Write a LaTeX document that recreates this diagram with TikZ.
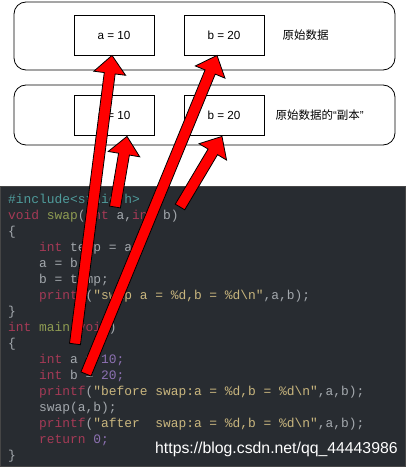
\documentclass[tikz,border=0pt]{standalone}
\usepackage{xcolor}
\usepackage{fontspec}
\setmainfont{Liberation Sans}
\setmonofont{Liberation Mono}
\newfontfamily\cjk{Noto Sans CJK SC}
\usetikzlibrary{calc}
\usetikzlibrary{positioning}
\definecolor{codebg}{HTML}{282C31}
\definecolor{kwred}{HTML}{A53A56}
\definecolor{fngreen}{HTML}{8E9B52}
\definecolor{plaingray}{HTML}{A3A8AD}
\definecolor{strtan}{HTML}{C9B67E}
\definecolor{numpurple}{HTML}{8D71B2}
\definecolor{preteal}{HTML}{4F9C9C}
\newcommand{\kw}[1]{\textcolor{kwred}{#1}}
\newcommand{\fn}[1]{\textcolor{fngreen}{#1}}
\newcommand{\str}[1]{\textcolor{strtan}{#1}}
\newcommand{\num}[1]{\textcolor{numpurple}{#1}}
\newcommand{\blockarrow}[2]{%
	\coordinate (hb) at ($(#2)!18pt!(#1)$);
	\filldraw[redarrow] ($(#1)!5.5pt!90:(#2)$) -- ($(hb)!5.5pt!-90:(#1)$) -- ($(hb)!16pt!-90:(#1)$) -- (#2) -- ($(hb)!16pt!90:(#1)$) -- ($(hb)!5.5pt!90:(#1)$) -- ($(#1)!5.5pt!-90:(#2)$) -- cycle;
}
\tikzset{
	rowbox/.style={draw, line width=0.8pt, rounded corners=12pt, minimum width=381pt, inner sep=0pt},
	valbox/.style={draw, line width=0.8pt, minimum width=80pt, minimum height=40pt, inner sep=0pt, font=\fontsize{11.7}{14}\selectfont},
	rowlabel/.style={inner sep=0pt, font=\fontsize{11.5}{14}\selectfont},
	code/.style={anchor=base west, inner sep=0pt, text=plaingray, font=\ttfamily\fontsize{12.9}{15}\selectfont},
	redarrow/.style={fill=red, draw=black, line width=0.8pt, line join=miter},
}
\frenchspacing
\begin{document}
\begin{tikzpicture}[x=1pt, y=-1pt]
	\useasboundingbox (0,0) rectangle (408,468);

	\node[rowbox, minimum height=68pt] (origrow) at (204.5,36) {};
	\node[rowbox, minimum height=60pt] (copyrow) at (204.5,115) {};

	\node[valbox] (origa) at (114,35) {a = 10};
	\node[valbox] (origb) at (224,35) {b = 20};
	\node[rowlabel, right=18pt of origb] (origlabel) {\cjk 原始数据};

	\node[valbox] (copya) at (114,115) {a = 10};
	\node[valbox] (copyb) at (224,115) {b = 20};
	\node[rowlabel, right=11pt of copyb] (copylabel) {{\cjk 原始数据的}“{\cjk 副本}”};

	\filldraw[fill=codebg, draw=gray!55!black, line width=0.8pt] (0.5,186) rectangle (405,466);

	\node[code] (l1) at (8,203) {\textcolor{preteal}{\#include<stdio.h>}};
	\node[code] (l2) at (8,219) {\kw{void} \fn{swap}(\kw{int} a,\kw{int} b)};
	\node[code] (l3) at (8,235) {\{};
	\node[code] (l4) at (39,251) {\kw{int} temp = a;};
	\node[code] (l5) at (39,267) {a = b;};
	\node[code] (l6) at (39,283) {b = temp;};
	\node[code] (l7) at (39,299) {\kw{printf}(\str{"swap a = \%d,b = \%d\textbackslash n"},a,b);};
	\node[code] (l8) at (8,315) {\}};
	\node[code] (l9) at (8,331) {\kw{int} \fn{main}(\kw{void})};
	\node[code] (l10) at (8,347) {\{};
	\node[code] (l11) at (39,363) {\kw{int} a = \num{10;}};
	\node[code] (l12) at (39,379) {\kw{int} b = \num{20;}};
	\node[code] (l13) at (39,395) {\kw{printf}(\str{"before swap:a = \%d,b = \%d\textbackslash n"},a,b);};
	\node[code] (l14) at (39,411) {swap(a,b);};
	\node[code] (l15) at (39,427) {\kw{printf}(\str{"after\ \ swap:a = \%d,b = \%d\textbackslash n"},a,b);};
	\node[code] (l16) at (39,443) {\kw{return} \num{0;}};
	\node[code] (l17) at (8,459) {\}};

	\node[anchor=base west, inner sep=0pt, text=white, font=\fontsize{15.8}{18}\selectfont] (url) at (155,453) {https://blog.csdn.net/qq\_44443986};

	\coordinate (froma) at (75,344);
	\coordinate (fromb) at (86,374);
	\coordinate (fromca) at (115,207);
	\coordinate (fromcb) at (180,207);
	\coordinate (toa) at ([xshift=-2pt]origa.south);
	\coordinate (tob) at ([xshift=-7pt]origb.south);
	\coordinate (toca) at ([xshift=13pt, yshift=-1pt]copya.south);
	\coordinate (tocb) at ([xshift=-2pt, yshift=-1pt]copyb.south);

	\blockarrow{froma}{toa}
	\blockarrow{fromb}{tob}
	\blockarrow{fromca}{toca}
	\blockarrow{fromcb}{tocb}
\end{tikzpicture}
\end{document}
